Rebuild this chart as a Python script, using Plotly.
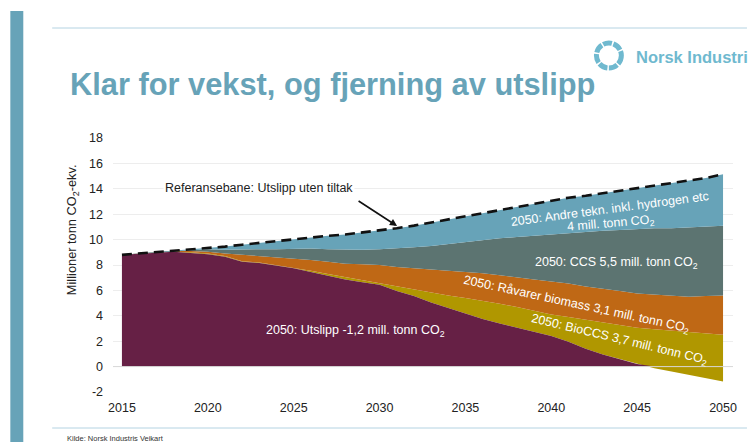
import plotly.graph_objects as go

years = list(range(2015, 2051, 1))
reference = [8.8,8.9,9.0,9.1,9.2,9.3,9.45,9.6,9.75,9.9,10.0,10.15,10.3,10.4,10.55,10.7,10.9,11.1,11.35,11.6,11.85,12.1,12.35,12.6,12.85,13.1,13.3,13.45,13.65,13.85,14.05,14.25,14.45,14.65,14.85,15.15]
other_low = [8.8,8.9,9.0,9.1,9.2,9.25,9.2,9.25,9.25,9.25,9.3,9.3,9.25,9.2,9.2,9.25,9.3,9.4,9.5,9.65,9.85,9.95,10.1,10.2,10.3,10.45,10.55,10.6,10.7,10.75,10.85,10.9,10.9,10.95,11.0,11.1]
ccs_low = [8.8,8.9,9.0,9.1,9.1,9.05,8.9,8.8,8.7,8.6,8.55,8.4,8.25,8.1,8.05,8.0,7.85,7.75,7.65,7.6,7.5,7.35,7.2,7.0,6.85,6.7,6.55,6.3,6.15,5.95,5.75,5.65,5.6,5.5,5.55,5.6]
biomass_low = [8.8,8.9,9.0,9.05,9.0,8.9,8.7,8.3,8.2,8.0,7.8,7.55,7.3,7.05,6.85,6.6,6.3,6.05,5.85,5.6,5.4,5.2,4.95,4.7,4.4,4.1,3.9,3.7,3.5,3.3,3.05,2.95,2.85,2.75,2.6,2.5]
emissions = [8.8,8.9,9.0,9.05,8.95,8.85,8.65,8.25,8.15,7.95,7.75,7.45,7.15,6.85,6.65,6.45,5.95,5.55,5.05,4.6,4.15,3.75,3.4,3.05,2.7,2.4,1.95,1.4,0.95,0.6,0.2,-0.13,-0.39,-0.65,-0.92,-1.18]
purple_top = [max(0, v) for v in emissions]
y_ticks = list(range(-2, 20, 2))
y_tick_labels = ["-2", "0", "2", "4", "6", "8", "10", "12", "14", "16", "18"]
x_ticks = list(range(2015, 2055, 5))

BLUE, GRAY, ORANGE, YELLOW, PURPLE = "#67A3B8", "#5C7471", "#BF6815", "#B09700", "#662045"
FONT = "Liberation Sans"

fig = go.Figure()
fig.add_trace(go.Scatter(x=years, y=emissions, mode="lines", line=dict(width=0), showlegend=False))
for vals, col in [(biomass_low, YELLOW), (ccs_low, ORANGE), (other_low, GRAY), (reference, BLUE)]:
    fig.add_trace(go.Scatter(x=years, y=vals, mode="lines", line=dict(width=0), fill="tonexty",
                             fillcolor=col, showlegend=False))
fig.add_trace(go.Scatter(x=years, y=purple_top, mode="lines", line=dict(width=0), fill="tozeroy",
                         fillcolor=PURPLE, showlegend=False))
fig.add_trace(go.Scatter(x=years, y=reference, mode="lines",
                         line=dict(color="#111111", width=2.6, dash="10px,6px"), showlegend=False))

L, R, T, B = 113, 735, 138, 392
W, H = 749, 442
def X(p): return (p - L) / (R - L)
def Y(p): return (B - p) / (B - T)

shapes = [
    dict(type="rect", xref="paper", yref="paper", x0=X(10), x1=X(23), y0=Y(442), y1=Y(11), fillcolor=BLUE, line_width=0, layer="below"),
    dict(type="line", xref="paper", yref="paper", x0=X(52), x1=X(749), y0=Y(28), y1=Y(28), line=dict(color="#B4D3E2", width=1)),
    dict(type="line", xref="paper", yref="paper", x0=X(52), x1=X(749), y0=Y(428), y1=Y(428), line=dict(color="#B4D3E2", width=1)),
    dict(type="circle", xref="paper", yref="paper", x0=X(598), x1=X(623), y0=Y(68), y1=Y(43), line=dict(color="#6FB9CF", width=5, dash="9px,1.5px")),
    dict(type="line", xref="paper", yref="y", x0=0, x1=1, y0=0, y1=0, line=dict(color="#D8D8D8", width=1)),
]

def note(px_x, px_y, text, size=12.5, angle=0, color="white", xanchor="center", **kw):
    return dict(xref="paper", yref="paper", x=X(px_x), y=Y(px_y), text=text, showarrow=False,
                xanchor=xanchor, yanchor="middle",
                font=dict(family=FONT, size=size, color=color), textangle=angle, **kw)

CO2 = "CO<sub>2</sub>"
annotations = [
    note(68, 85, "<b>Klar for vekst, og fjerning av utslipp</b>", size=30.8, color=BLUE, xanchor="left"),
    note(636, 57, "<b>Norsk Industri</b>", size=16.5, color="#6FB9CF", xanchor="left"),
    note(65, 438, "Kilde: Norsk Industris Veikart", size=7.5, color="#333333", xanchor="left"),
    note(72, 230, f"Millioner tonn {CO2}-ekv.", size=12.8, angle=-90, color="#222222"),
    note(259, 188, "Referansebane: Utslipp uten tiltak", size=12.5, color="#222222", bgcolor="white"),
    note(356, 331, f"2050: Utslipp -1,2 mill. tonn {CO2}", size=12.5),
    note(611.5, 208.5, "2050: Andre tekn. inkl. hydrogen etc", size=12.5, angle=-7.5),
    note(613, 224, f"4 mill. tonn {CO2}", size=12.5, angle=-5),
    note(618, 263, f"2050: CCS 5,5 mill. tonn {CO2}", size=12.5),
    note(578, 305, f"2050: Råvarer biomass 3,1 mill. tonn {CO2}", size=12.5, angle=12.2),
    note(621, 340, f"2050: BioCCS 3,7 mill. tonn {CO2}", size=12.5, angle=13.5),
    dict(xref="paper", yref="paper", axref="pixel", ayref="pixel", x=X(398), y=Y(226), ax=-40, ay=-26,
         text="", showarrow=True, arrowhead=2, arrowsize=0.9, arrowwidth=1.6, arrowcolor="#111111"),
]

fig.update_layout(
    width=W, height=H, margin=dict(l=L, r=W - R, t=T, b=H - B, pad=0),
    paper_bgcolor="white", plot_bgcolor="white", showlegend=False,
    font=dict(family=FONT, size=12.5, color="#222222"),
    shapes=shapes, annotations=annotations,
    xaxis=dict(range=[2014.48, 2050.58], tickvals=x_ticks, showgrid=False, zeroline=False, showline=False,
               ticks="", tickfont=dict(size=12.5), ticklabelstandoff=6),
    yaxis=dict(range=[-2, 18], tickvals=y_ticks, ticktext=y_tick_labels, showgrid=True, gridcolor="#EDEDED", gridwidth=1,
               zeroline=False, showline=False, ticks="", tickfont=dict(size=12.5), ticklabelstandoff=9),
)
fig.write_html("out.html", config={"displayModeBar": False}, post_script="document.body.style.margin='0';")
